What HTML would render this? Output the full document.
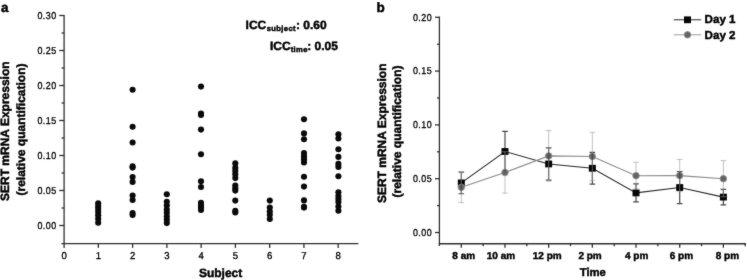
<!DOCTYPE html>
<html><head><meta charset="utf-8"><title>figure</title>
<style>html,body{margin:0;padding:0;background:#fff;}body{width:747px;height:280px;overflow:hidden;}svg{display:block;}text{text-rendering:geometricPrecision;font-family:"Liberation Sans",sans-serif;fill:#000000;}.b{font-weight:bold;stroke:#000000;stroke-width:0.45px;}</style>
</head><body>
<svg width="747" height="280" viewBox="0 0 747 280">
<defs><filter id="soft" x="0" y="0" width="747" height="280" filterUnits="userSpaceOnUse" color-interpolation-filters="sRGB"><feConvolveMatrix order="3" kernelMatrix="0.02 0.06 0.02 0.06 0.68 0.06 0.02 0.06 0.02" edgeMode="duplicate" preserveAlpha="true"/></filter></defs>
<rect x="0" y="0" width="747" height="280" fill="#ffffff"/>
<g filter="url(#soft)">
<rect x="0" y="0" width="747" height="280" fill="#ffffff"/>
<g stroke="#303030" stroke-width="1.3" fill="none" stroke-linecap="butt">
<line x1="64.10" y1="14.90" x2="64.10" y2="244.35"/>
<line x1="61.40" y1="243.70" x2="358.30" y2="243.70"/>
<line x1="59.20" y1="225.50" x2="64.10" y2="225.50"/>
<line x1="59.20" y1="190.50" x2="64.10" y2="190.50"/>
<line x1="59.20" y1="155.50" x2="64.10" y2="155.50"/>
<line x1="59.20" y1="120.50" x2="64.10" y2="120.50"/>
<line x1="59.20" y1="85.50" x2="64.10" y2="85.50"/>
<line x1="59.20" y1="50.50" x2="64.10" y2="50.50"/>
<line x1="59.20" y1="15.50" x2="64.10" y2="15.50"/>
<line x1="61.60" y1="208.00" x2="64.10" y2="208.00"/>
<line x1="61.60" y1="173.00" x2="64.10" y2="173.00"/>
<line x1="61.60" y1="138.00" x2="64.10" y2="138.00"/>
<line x1="61.60" y1="103.00" x2="64.10" y2="103.00"/>
<line x1="61.60" y1="68.00" x2="64.10" y2="68.00"/>
<line x1="61.60" y1="33.00" x2="64.10" y2="33.00"/>
<line x1="64.10" y1="243.70" x2="64.10" y2="247.90"/>
<line x1="98.36" y1="243.70" x2="98.36" y2="247.90"/>
<line x1="132.62" y1="243.70" x2="132.62" y2="247.90"/>
<line x1="166.88" y1="243.70" x2="166.88" y2="247.90"/>
<line x1="201.14" y1="243.70" x2="201.14" y2="247.90"/>
<line x1="235.40" y1="243.70" x2="235.40" y2="247.90"/>
<line x1="269.66" y1="243.70" x2="269.66" y2="247.90"/>
<line x1="303.92" y1="243.70" x2="303.92" y2="247.90"/>
<line x1="338.18" y1="243.70" x2="338.18" y2="247.90"/>
</g>
<text font-size="10.0" text-anchor="end" transform="translate(56.60,228.80) scale(0.890,1)" stroke="#000000" stroke-width="0.32" letter-spacing="0.52">0.00</text>
<text font-size="10.0" text-anchor="end" transform="translate(56.60,193.80) scale(0.890,1)" stroke="#000000" stroke-width="0.32" letter-spacing="0.52">0.05</text>
<text font-size="10.0" text-anchor="end" transform="translate(56.60,158.80) scale(0.890,1)" stroke="#000000" stroke-width="0.32" letter-spacing="0.52">0.10</text>
<text font-size="10.0" text-anchor="end" transform="translate(56.60,123.80) scale(0.890,1)" stroke="#000000" stroke-width="0.32" letter-spacing="0.52">0.15</text>
<text font-size="10.0" text-anchor="end" transform="translate(56.60,88.80) scale(0.890,1)" stroke="#000000" stroke-width="0.32" letter-spacing="0.52">0.20</text>
<text font-size="10.0" text-anchor="end" transform="translate(56.60,53.80) scale(0.890,1)" stroke="#000000" stroke-width="0.32" letter-spacing="0.52">0.25</text>
<text font-size="10.0" text-anchor="end" transform="translate(56.60,18.80) scale(0.890,1)" stroke="#000000" stroke-width="0.32" letter-spacing="0.52">0.30</text>
<text font-size="10.0" text-anchor="middle" transform="translate(64.10,259.20) scale(0.955,1)" stroke="#000000" stroke-width="0.32">0</text>
<text font-size="10.0" text-anchor="middle" transform="translate(98.36,259.20) scale(0.955,1)" stroke="#000000" stroke-width="0.32">1</text>
<text font-size="10.0" text-anchor="middle" transform="translate(132.62,259.20) scale(0.955,1)" stroke="#000000" stroke-width="0.32">2</text>
<text font-size="10.0" text-anchor="middle" transform="translate(166.88,259.20) scale(0.955,1)" stroke="#000000" stroke-width="0.32">3</text>
<text font-size="10.0" text-anchor="middle" transform="translate(201.14,259.20) scale(0.955,1)" stroke="#000000" stroke-width="0.32">4</text>
<text font-size="10.0" text-anchor="middle" transform="translate(235.40,259.20) scale(0.955,1)" stroke="#000000" stroke-width="0.32">5</text>
<text font-size="10.0" text-anchor="middle" transform="translate(269.66,259.20) scale(0.955,1)" stroke="#000000" stroke-width="0.32">6</text>
<text font-size="10.0" text-anchor="middle" transform="translate(303.92,259.20) scale(0.955,1)" stroke="#000000" stroke-width="0.32">7</text>
<text font-size="10.0" text-anchor="middle" transform="translate(338.18,259.20) scale(0.955,1)" stroke="#000000" stroke-width="0.32">8</text>
<text class="b" x="220.6" y="277.1" font-size="12" text-anchor="middle">Subject</text>
<text class="b" font-size="12" text-anchor="middle" transform="translate(8.7,131.2) rotate(-90)">SERT mRNA Expression</text>
<text class="b" font-size="12" text-anchor="middle" transform="translate(24.7,129.5) rotate(-90)">(relative quantification)</text>
<text class="b" x="1.0" y="11.7" font-size="13.5">a</text>
<text class="b" x="245.60" y="29.10" font-size="12" text-anchor="start">ICC</text>
<text class="b" x="296.00" y="29.10" font-size="12" text-anchor="start">: 0.60</text>
<text class="b" x="270.00" y="49.90" font-size="12" text-anchor="start">ICC</text>
<text class="b" x="307.20" y="49.90" font-size="12" text-anchor="start">: 0.05</text>
<text class="b" x="266.8" y="31.3" font-size="7.6" letter-spacing="0.35" stroke="#000000" stroke-width="0.3">subject</text>
<text class="b" x="290.7" y="52.2" font-size="7.6" letter-spacing="0.35" stroke="#000000" stroke-width="0.3">time</text>
<g fill="#0a0a0a">
<circle cx="98.2" cy="203.2" r="3.05"/>
<circle cx="98.2" cy="206.4" r="3.05"/>
<circle cx="98.2" cy="209.0" r="3.05"/>
<circle cx="98.2" cy="212.1" r="3.05"/>
<circle cx="98.2" cy="215.3" r="3.05"/>
<circle cx="98.2" cy="218.9" r="3.05"/>
<circle cx="98.2" cy="222.7" r="3.05"/>
<circle cx="132.6" cy="89.8" r="3.05"/>
<circle cx="132.6" cy="126.7" r="3.05"/>
<circle cx="132.6" cy="142.5" r="3.05"/>
<circle cx="132.6" cy="166.4" r="3.05"/>
<circle cx="132.6" cy="167.6" r="3.05"/>
<circle cx="132.6" cy="177.0" r="3.05"/>
<circle cx="132.6" cy="181.9" r="3.05"/>
<circle cx="132.6" cy="195.5" r="3.05"/>
<circle cx="132.6" cy="200.0" r="3.05"/>
<circle cx="132.6" cy="213.0" r="3.05"/>
<circle cx="132.6" cy="215.0" r="3.05"/>
<circle cx="166.8" cy="194.2" r="3.05"/>
<circle cx="166.8" cy="201.8" r="3.05"/>
<circle cx="166.8" cy="205.6" r="3.05"/>
<circle cx="166.8" cy="209.5" r="3.05"/>
<circle cx="166.8" cy="212.7" r="3.05"/>
<circle cx="166.8" cy="216.6" r="3.05"/>
<circle cx="166.8" cy="219.8" r="3.05"/>
<circle cx="166.8" cy="223.1" r="3.05"/>
<circle cx="201.0" cy="86.6" r="3.05"/>
<circle cx="201.0" cy="113.6" r="3.05"/>
<circle cx="201.0" cy="114.9" r="3.05"/>
<circle cx="201.0" cy="129.6" r="3.05"/>
<circle cx="201.0" cy="154.2" r="3.05"/>
<circle cx="201.0" cy="181.2" r="3.05"/>
<circle cx="201.0" cy="187.0" r="3.05"/>
<circle cx="201.0" cy="202.7" r="3.05"/>
<circle cx="201.0" cy="205.5" r="3.05"/>
<circle cx="201.0" cy="207.5" r="3.05"/>
<circle cx="201.0" cy="209.9" r="3.05"/>
<circle cx="235.3" cy="163.4" r="3.05"/>
<circle cx="235.3" cy="167.9" r="3.05"/>
<circle cx="235.3" cy="171.1" r="3.05"/>
<circle cx="235.3" cy="174.3" r="3.05"/>
<circle cx="235.3" cy="178.1" r="3.05"/>
<circle cx="235.3" cy="185.6" r="3.05"/>
<circle cx="235.3" cy="188.2" r="3.05"/>
<circle cx="235.3" cy="190.6" r="3.05"/>
<circle cx="235.3" cy="200.6" r="3.05"/>
<circle cx="235.3" cy="210.7" r="3.05"/>
<circle cx="235.3" cy="212.4" r="3.05"/>
<circle cx="269.8" cy="200.6" r="3.05"/>
<circle cx="269.8" cy="207.5" r="3.05"/>
<circle cx="269.8" cy="211.5" r="3.05"/>
<circle cx="269.8" cy="214.8" r="3.05"/>
<circle cx="269.8" cy="219.0" r="3.05"/>
<circle cx="304.0" cy="119.3" r="3.05"/>
<circle cx="304.0" cy="133.4" r="3.05"/>
<circle cx="304.0" cy="139.2" r="3.05"/>
<circle cx="304.0" cy="153.1" r="3.05"/>
<circle cx="304.0" cy="156.2" r="3.05"/>
<circle cx="304.0" cy="159.3" r="3.05"/>
<circle cx="304.0" cy="162.4" r="3.05"/>
<circle cx="304.0" cy="176.8" r="3.05"/>
<circle cx="304.0" cy="186.6" r="3.05"/>
<circle cx="304.0" cy="200.4" r="3.05"/>
<circle cx="304.0" cy="206.9" r="3.05"/>
<circle cx="304.0" cy="207.6" r="3.05"/>
<circle cx="338.4" cy="134.3" r="3.05"/>
<circle cx="338.4" cy="138.5" r="3.05"/>
<circle cx="338.4" cy="149.2" r="3.05"/>
<circle cx="338.4" cy="156.9" r="3.05"/>
<circle cx="338.4" cy="163.9" r="3.05"/>
<circle cx="338.4" cy="166.9" r="3.05"/>
<circle cx="338.4" cy="176.2" r="3.05"/>
<circle cx="338.4" cy="192.2" r="3.05"/>
<circle cx="338.4" cy="196.0" r="3.05"/>
<circle cx="338.4" cy="199.0" r="3.05"/>
<circle cx="338.4" cy="202.0" r="3.05"/>
<circle cx="338.4" cy="206.5" r="3.05"/>
<circle cx="338.4" cy="210.7" r="3.05"/>
</g>
<g stroke="#303030" stroke-width="1.3" fill="none">
<line x1="439.40" y1="16.60" x2="439.40" y2="246.00"/>
<line x1="438.75" y1="243.75" x2="746.00" y2="243.75"/>
<line x1="435.00" y1="232.50" x2="439.40" y2="232.50"/>
<line x1="435.00" y1="178.70" x2="439.40" y2="178.70"/>
<line x1="435.00" y1="124.90" x2="439.40" y2="124.90"/>
<line x1="435.00" y1="71.10" x2="439.40" y2="71.10"/>
<line x1="435.00" y1="17.30" x2="439.40" y2="17.30"/>
<line x1="437.00" y1="205.60" x2="439.40" y2="205.60"/>
<line x1="437.00" y1="151.80" x2="439.40" y2="151.80"/>
<line x1="437.00" y1="98.00" x2="439.40" y2="98.00"/>
<line x1="437.00" y1="44.20" x2="439.40" y2="44.20"/>
<line x1="461.30" y1="243.75" x2="461.30" y2="247.70"/>
<line x1="504.98" y1="243.75" x2="504.98" y2="247.70"/>
<line x1="548.66" y1="243.75" x2="548.66" y2="247.70"/>
<line x1="592.34" y1="243.75" x2="592.34" y2="247.70"/>
<line x1="636.02" y1="243.75" x2="636.02" y2="247.70"/>
<line x1="679.70" y1="243.75" x2="679.70" y2="247.70"/>
<line x1="723.38" y1="243.75" x2="723.38" y2="247.70"/>
<line x1="483.14" y1="243.75" x2="483.14" y2="246.20"/>
<line x1="526.82" y1="243.75" x2="526.82" y2="246.20"/>
<line x1="570.50" y1="243.75" x2="570.50" y2="246.20"/>
<line x1="614.18" y1="243.75" x2="614.18" y2="246.20"/>
<line x1="657.86" y1="243.75" x2="657.86" y2="246.20"/>
<line x1="701.54" y1="243.75" x2="701.54" y2="246.20"/>
<line x1="745.22" y1="243.75" x2="745.22" y2="246.20"/>
</g>
<text font-size="10.0" text-anchor="end" transform="translate(432.10,235.80) scale(0.890,1)" stroke="#000000" stroke-width="0.32" letter-spacing="0.52">0.00</text>
<text font-size="10.0" text-anchor="end" transform="translate(432.10,182.00) scale(0.890,1)" stroke="#000000" stroke-width="0.32" letter-spacing="0.52">0.05</text>
<text font-size="10.0" text-anchor="end" transform="translate(432.10,128.20) scale(0.890,1)" stroke="#000000" stroke-width="0.32" letter-spacing="0.52">0.10</text>
<text font-size="10.0" text-anchor="end" transform="translate(432.10,74.40) scale(0.890,1)" stroke="#000000" stroke-width="0.32" letter-spacing="0.52">0.15</text>
<text font-size="10.0" text-anchor="end" transform="translate(432.10,20.60) scale(0.890,1)" stroke="#000000" stroke-width="0.32" letter-spacing="0.52">0.20</text>
<text class="b" x="463.70" y="259.2" font-size="10" text-anchor="middle">8 am</text>
<text class="b" x="501.00" y="259.2" font-size="10" text-anchor="middle">10 am</text>
<text class="b" x="547.20" y="259.2" font-size="10" text-anchor="middle">12 pm</text>
<text class="b" x="590.10" y="259.2" font-size="10" text-anchor="middle">2 pm</text>
<text class="b" x="636.70" y="259.2" font-size="10" text-anchor="middle">4 pm</text>
<text class="b" x="681.40" y="259.2" font-size="10" text-anchor="middle">6 pm</text>
<text class="b" x="727.40" y="259.2" font-size="10" text-anchor="middle">8 pm</text>
<text class="b" x="592.8" y="276.0" font-size="11.3" text-anchor="middle">Time</text>
<text class="b" font-size="12" text-anchor="middle" transform="translate(385.6,133.3) rotate(-90)">SERT mRNA Expression</text>
<text class="b" font-size="12" text-anchor="middle" transform="translate(401.3,131.5) rotate(-90)">(relative quantification)</text>
<text class="b" x="376.6" y="11.6" font-size="13.5">b</text>
<g stroke="#4a4a4a" stroke-width="1.2" fill="none">
<path d="M461.30 172.03V193.76M458.50 172.03H464.10M458.50 193.76H464.10"/>
<path d="M504.98 131.46V171.49M502.18 131.46H507.78M502.18 171.49H507.78"/>
<path d="M548.66 147.82V180.10M545.86 147.82H551.46M545.86 180.10H551.46"/>
<path d="M592.34 152.45V184.08M589.54 152.45H595.14M589.54 184.08H595.14"/>
<path d="M636.02 183.97V201.83M633.22 183.97H638.82M633.22 201.83H638.82"/>
<path d="M679.70 171.49V203.56M676.90 171.49H682.50M676.90 203.56H682.50"/>
<path d="M723.38 189.35V204.85M720.58 189.35H726.18M720.58 204.85H726.18"/>
</g>
<polyline fill="none" stroke="#2a2a2a" stroke-width="1.1" points="461.30,182.90 504.98,151.48 548.66,163.96 592.34,168.26 636.02,192.90 679.70,187.52 723.38,197.10"/>
<rect x="457.80" y="179.50" width="7.0" height="6.8" fill="#050505"/>
<rect x="501.48" y="148.08" width="7.0" height="6.8" fill="#050505"/>
<rect x="545.16" y="160.56" width="7.0" height="6.8" fill="#050505"/>
<rect x="588.84" y="164.86" width="7.0" height="6.8" fill="#050505"/>
<rect x="632.52" y="189.50" width="7.0" height="6.8" fill="#050505"/>
<rect x="676.20" y="184.12" width="7.0" height="6.8" fill="#050505"/>
<rect x="719.88" y="193.70" width="7.0" height="6.8" fill="#050505"/>
<g stroke="#999999" stroke-opacity="0.6" stroke-width="1.0" fill="none">
<path d="M461.30 172.03V202.59M458.50 172.03H464.10M458.50 202.59H464.10"/>
<path d="M504.98 151.80V193.12M502.18 151.80H507.78M502.18 193.12H507.78"/>
<path d="M548.66 130.60V181.17M545.86 130.60H551.46M545.86 181.17H551.46"/>
<path d="M592.34 132.32V180.53M589.54 132.32H595.14M589.54 180.53H595.14"/>
<path d="M636.02 162.34V189.03M633.22 162.34H638.82M633.22 189.03H638.82"/>
<path d="M679.70 159.44V191.72M676.90 159.44H682.50M676.90 191.72H682.50"/>
<path d="M723.38 160.62V196.78M720.58 160.62H726.18M720.58 196.78H726.18"/>
</g>
<polyline fill="none" stroke="#8a8a8a" stroke-width="1.1" points="461.30,187.31 504.98,172.46 548.66,155.89 592.34,156.43 636.02,175.69 679.70,175.58 723.38,178.70"/>
<circle cx="461.30" cy="187.31" r="3.25" fill="#646464" stroke="#8e8e8e" stroke-width="0.9"/>
<circle cx="504.98" cy="172.46" r="3.25" fill="#646464" stroke="#8e8e8e" stroke-width="0.9"/>
<circle cx="548.66" cy="155.89" r="3.25" fill="#646464" stroke="#8e8e8e" stroke-width="0.9"/>
<circle cx="592.34" cy="156.43" r="3.25" fill="#646464" stroke="#8e8e8e" stroke-width="0.9"/>
<circle cx="636.02" cy="175.69" r="3.25" fill="#646464" stroke="#8e8e8e" stroke-width="0.9"/>
<circle cx="679.70" cy="175.58" r="3.25" fill="#646464" stroke="#8e8e8e" stroke-width="0.9"/>
<circle cx="723.38" cy="178.70" r="3.25" fill="#646464" stroke="#8e8e8e" stroke-width="0.9"/>
<g stroke="#333333" stroke-opacity="0.55" stroke-width="1.2" fill="none">
<path d="M461.30 183.81V190.81"/>
<path d="M504.98 168.96V171.49"/>
<path d="M548.66 152.39V159.39"/>
<path d="M592.34 152.93V159.93"/>
<path d="M679.70 172.08V179.08"/>
</g>
<line x1="673.8" y1="19.8" x2="701.2" y2="19.8" stroke="#2a2a2a" stroke-width="1.0"/>
<rect x="684.0" y="16.4" width="7.0" height="6.8" fill="#050505"/>
<line x1="673.8" y1="34.8" x2="701.2" y2="34.8" stroke="#9a9a9a" stroke-width="1.0"/>
<circle cx="687.5" cy="34.8" r="3.25" fill="#646464" stroke="#8e8e8e" stroke-width="0.9"/>
<text class="b" x="704.6" y="23.2" font-size="11.6">Day 1</text>
<text class="b" x="704.6" y="38.5" font-size="11.6">Day 2</text>
</g>
</svg>
</body></html>
